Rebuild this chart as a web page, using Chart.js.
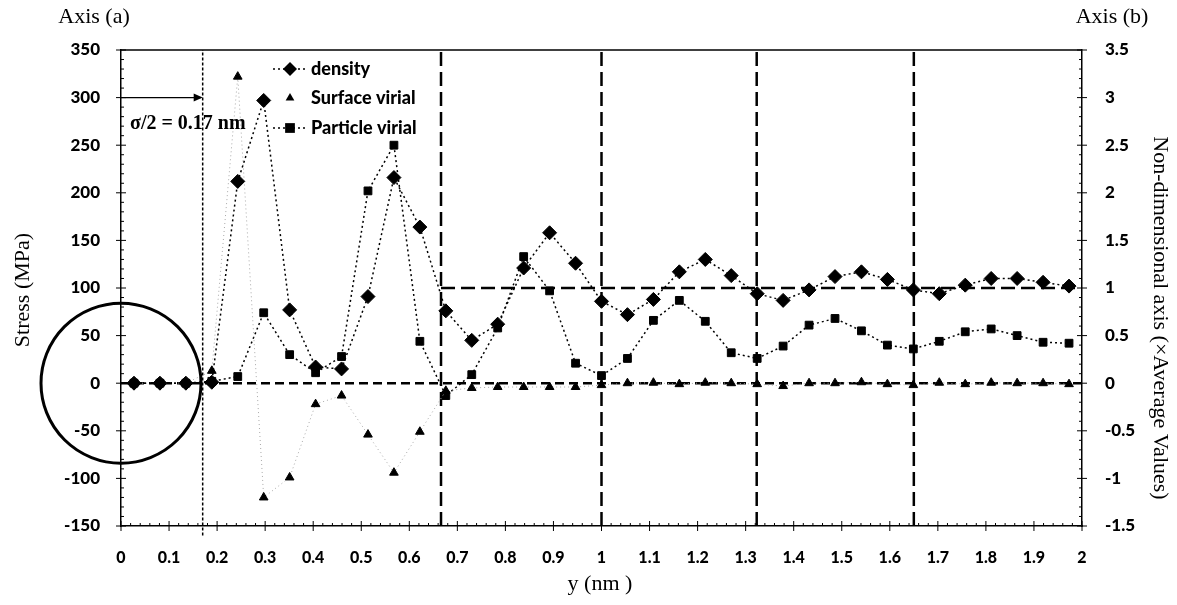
<!DOCTYPE html>
<html>
<head>
<meta charset="utf-8">
<script src="https://cdn.jsdelivr.net/npm/chart.js@4.4.1/dist/chart.umd.min.js"></script>
<style>
html,body{margin:0;padding:0;background:#fff;}
#wrap{width:1177px;height:605px;position:relative;}
</style>
</head>
<body>
<div id="wrap"><canvas id="c" width="1177" height="605"></canvas></div>
<script>
// ---- data ----
const yPositions = [0.027,0.081,0.135,0.189,0.243,0.297,0.351,0.405,0.459,0.514,0.568,0.622,0.676,0.730,0.784,0.838,0.892,0.946,1.000,1.054,1.108,1.162,1.216,1.270,1.324,1.378,1.432,1.486,1.541,1.595,1.649,1.703,1.757,1.811,1.865,1.919,1.973];
// non-dimensional density (axis b)
const density = [0,0,0,0.01,2.12,2.97,0.77,0.17,0.15,0.91,2.16,1.64,0.76,0.45,0.62,1.21,1.58,1.26,0.86,0.72,0.88,1.17,1.30,1.13,0.94,0.87,0.98,1.12,1.17,1.09,0.98,0.94,1.03,1.10,1.10,1.06,1.02];
// stresses in MPa (axis a)
const surfaceVirial = [0,0,0,13,322,-120,-99,-22,-13,-54,-94,-51,-8,-5,-4,-4,-4,-4,-2,0,0.5,-1,0.5,0,-1,-3,0,0,1,-1,-2,0.5,-1,0.5,0,0,-1];
const particleVirial = [0,0,0,2,7,74,30,11,28,202,250,44,-13,9,58,133,97,21,8,26,66,87,65,32,26,39,61,68,55,40,36,44,54,57,50,43,42];
const seriesNames = ["density","Surface virial","Particle virial"];
const verticalGuides = [0.666,1.0,1.323,1.65];
const sigmaHalf = 0.17;
const sigmaLabel = "\u03c3/2 = 0.17 nm";
const unityStart = 0.666;
const leftTickRange = [-150,350,50];
const rightTickRange = [-1.5,3.5,0.5];
const xTickRange = [0,2,0.1];

const pts = arr => arr.map((v,i)=>({x:yPositions[i], y:v}));

const datasets = [
  {label:seriesNames[0], data:pts(density), yAxisID:'y2', borderColor:'#000', backgroundColor:'#000',
   borderWidth:1.5, borderDash:[2,3], pointStyle:'rectRot', pointRadius:7, pointBorderWidth:1, pointBackgroundColor:'#000', pointBorderColor:'#000', order:1},
  {label:seriesNames[1], data:pts(surfaceVirial), yAxisID:'y', borderColor:'#a8a8a8', backgroundColor:'#000',
   borderWidth:1, borderDash:[1,3], pointStyle:'triangle', pointRadius:5, pointBorderWidth:1, pointBackgroundColor:'#000', pointBorderColor:'#000', order:2},
  {label:seriesNames[2], data:pts(particleVirial), yAxisID:'y', borderColor:'#000', backgroundColor:'#000',
   borderWidth:1.5, borderDash:[2,3], pointStyle:'rect', pointRadius:5.5, pointBorderWidth:1, pointBackgroundColor:'#000', pointBorderColor:'#000', order:3},
  // guide lines
  {label:'zero', data:[{x:0,y:0},{x:2,y:0}], yAxisID:'y', borderColor:'#000', borderWidth:2.5, borderDash:[9,5], pointRadius:0, order:10},
  {label:'unity', data:[{x:unityStart,y:1},{x:2,y:1}], yAxisID:'y2', borderColor:'#000', borderWidth:2.5, borderDash:[14,6], pointRadius:0, order:10},
  {label:'sigma', data:[{x:sigmaHalf,y:-160},{x:sigmaHalf,y:350}], yAxisID:'y', borderColor:'#000', borderWidth:1.5, borderDash:[3,2], pointRadius:0, clip:false, order:10},
  ...verticalGuides.map(v=>({label:'g'+v, data:[{x:v,y:-150},{x:v,y:350}], yAxisID:'y', borderColor:'#000', borderWidth:2.5, borderDash:[14,6], pointRadius:0, order:10}))
];

const serif = '"Liberation Serif", "DejaVu Serif", serif';
const sans = 'Lato, "Open Sans", sans-serif';

function drawMarker(ctx, style, x, y, r){
  ctx.beginPath();
  if(style==='rectRot'){ ctx.moveTo(x,y-r); ctx.lineTo(x+r,y); ctx.lineTo(x,y+r); ctx.lineTo(x-r,y); }
  else if(style==='triangle'){ ctx.moveTo(x,y-r); ctx.lineTo(x+r*0.87,y+r*0.5); ctx.lineTo(x-r*0.87,y+r*0.5); }
  else { const s=r*0.75; ctx.rect(x-s,y-s,2*s,2*s); }
  ctx.closePath(); ctx.fill();
}

const decor = {
  id:'decor',
  afterDraw(chart){
    const ctx = chart.ctx, ca = chart.chartArea;
    const xs = chart.scales.x, ys = chart.scales.y;
    ctx.save();
    ctx.strokeStyle='#000'; ctx.fillStyle='#000';
    ctx.lineWidth=1.5;
    ctx.beginPath(); ctx.moveTo(ca.left,ca.top); ctx.lineTo(ca.right,ca.top); ctx.stroke();
    ctx.lineWidth=1;
    for(let v=leftTickRange[0]; v<=leftTickRange[1]+1e-9; v+=10){
      const p = ys.getPixelForValue(v);
      const major = Math.abs(v % 50) < 1e-6;
      ctx.beginPath();
      if(major){ ctx.moveTo(ca.left-5,p); ctx.lineTo(ca.left+5,p); ctx.moveTo(ca.right-5,p); ctx.lineTo(ca.right+5,p); }
      else { ctx.moveTo(ca.left,p); ctx.lineTo(ca.left+3,p); ctx.moveTo(ca.right-3,p); ctx.lineTo(ca.right,p); }
      ctx.stroke();
    }
    for(let k=0;k<=100;k++){
      const v=k*0.02; const p=xs.getPixelForValue(v);
      ctx.beginPath();
      if(k%5===0){ ctx.moveTo(p,ca.bottom-5); ctx.lineTo(p,ca.bottom+5); }
      else { ctx.moveTo(p,ca.bottom-3); ctx.lineTo(p,ca.bottom); }
      ctx.stroke();
    }
    ctx.lineWidth=3;
    ctx.beginPath(); ctx.arc(xs.getPixelForValue(0), ys.getPixelForValue(0), 80, 0, Math.PI*2); ctx.stroke();
    const ay = ys.getPixelForValue(300), ax0 = xs.getPixelForValue(0), ax1 = xs.getPixelForValue(sigmaHalf);
    ctx.lineWidth=1.3;
    ctx.beginPath(); ctx.moveTo(ax0,ay); ctx.lineTo(ax1-2,ay); ctx.stroke();
    ctx.beginPath(); ctx.moveTo(ax1,ay); ctx.lineTo(ax1-9,ay-4); ctx.lineTo(ax1-9,ay+4); ctx.closePath(); ctx.fill();
    ctx.font = 'bold 20px '+serif; ctx.textAlign='left'; ctx.textBaseline='alphabetic';
    ctx.fillText(sigmaLabel, ca.left+9, ay+31);
    const legY=[69,98,128];
    const styles=['rectRot','triangle','rect'];
    const radii=[7,5,6.5];
    for(let i=0;i<3;i++){
      const y=legY[i];
      if(i!==1){
        ctx.lineWidth=1.3; ctx.setLineDash([2,3]);
        ctx.beginPath(); ctx.moveTo(273,y); ctx.lineTo(305,y); ctx.stroke(); ctx.setLineDash([]);
      }
      drawMarker(ctx, styles[i], 290, y, radii[i]);
      ctx.font='900 18px '+sans; ctx.textBaseline='middle'; ctx.textAlign='left';
      ctx.fillText(seriesNames[i], 311, y);
    }
    ctx.font = '22px '+serif; ctx.textBaseline='middle'; ctx.textAlign='center';
    ctx.fillText('Axis (a)', 94, 17);
    ctx.fillText('Axis (b)', 1112, 17);
    ctx.fillText('y (nm )', 600, 584);
    ctx.save(); ctx.translate(23, 290); ctx.rotate(-Math.PI/2); ctx.fillText('Stress (MPa)',0,0); ctx.restore();
    ctx.save(); ctx.translate(1160, 318); ctx.rotate(Math.PI/2); ctx.fillText('Non-dimensional axis (\u00d7Average Values)',0,0); ctx.restore();
    ctx.restore();
  }
};

const tickFont = {family: sans, size: 17, weight: '900'};
const fmt = v => String(Number(v.toFixed(1)));
new Chart(document.getElementById('c'), {
  type:'line',
  data:{datasets},
  options:{
    responsive:false, animation:false, devicePixelRatio:1,
    layout:{padding:{top:50,left:0,right:0,bottom:0}},
    plugins:{legend:{display:false}, tooltip:{enabled:false}},
    scales:{
      x:{type:'linear', min:xTickRange[0], max:xTickRange[1],
         ticks:{stepSize:xTickRange[2], color:'#000', font:{family:sans,size:16,weight:'900'}, padding:22, maxRotation:0, autoSkip:false, callback:fmt},
         grid:{display:false, drawTicks:false}, border:{display:true,color:'#000',width:1.5},
         afterFit(s){ s.height=79; }},
      y:{type:'linear', position:'left', min:leftTickRange[0], max:leftTickRange[1],
         ticks:{stepSize:leftTickRange[2], color:'#000', font:tickFont, padding:21, callback:fmt},
         grid:{display:false, drawTicks:false}, border:{display:true,color:'#000',width:1.5},
         afterFit(s){ s.width=121; }},
      y2:{type:'linear', position:'right', min:rightTickRange[0], max:rightTickRange[1],
         ticks:{stepSize:rightTickRange[2], color:'#000', font:tickFont, padding:23, callback:fmt},
         grid:{display:false, drawTicks:false}, border:{display:true,color:'#000',width:1.5},
         afterFit(s){ s.width=95; }}
    }
  },
  plugins:[decor]
});
</script>
</body>
</html>
